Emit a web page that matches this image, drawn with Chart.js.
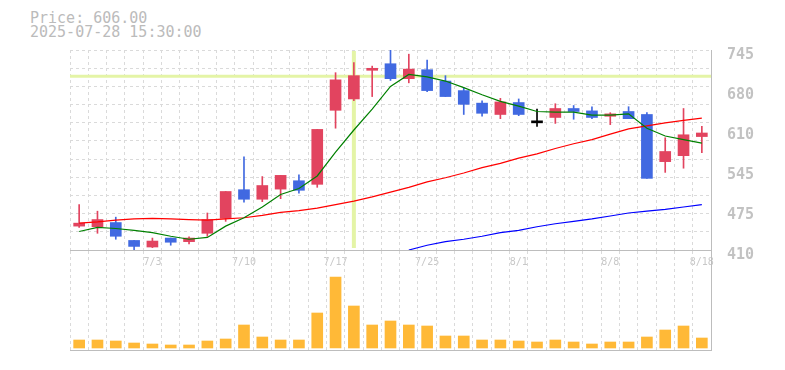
<!DOCTYPE html>
<html>
<head>
<meta charset="utf-8">
<script src="https://cdn.jsdelivr.net/npm/chart.js@4.4.1/dist/chart.umd.min.js"></script>
<style>
  body { margin: 0; background: #fff; }
  #wrap { position: relative; width: 785px; height: 370px; }
  #info { position: absolute; left: 30px; top: 11px; font: 15px/14px "DejaVu Sans Mono", monospace; color: #bbb; white-space: pre; }
  canvas { position: absolute; left: 0; }
</style>
</head>
<body>
<div id="wrap">
  <div id="info">Price: 606.00
2025-07-28 15:30:00</div>
  <canvas id="price" width="785" height="270" style="top:0"></canvas>
  <canvas id="volume" width="785" height="105" style="top:250px"></canvas>
</div>
<script>
// trading days
const dates = ['6/27','6/30','7/1','7/2','7/3','7/4','7/7','7/8','7/9','7/10','7/11','7/14','7/15','7/16','7/17','7/18',
  '7/22','7/23','7/24','7/25','7/28','7/29','7/30','7/31','8/1','8/4','8/5','8/6','8/7','8/8','8/12','8/13','8/14','8/15','8/18'];
const tickDates = ['7/3','7/10','7/17','7/25','8/1','8/8','8/18'];

const opens  = [450,449,456,426,415,430,424,438,463,511,495,512,526,520,644,663,711,722,697,712,693,677,656,637,657,623,632,647,643,634,642,637,558,568,600];
const highs  = [486,475,465,426,430,430,432,472,508,566,533,535,536,612,707,724,718,746,738,728,702,682,660,664,663,646,655,652,650,640,650,640,598,647,617];
const lows   = [448,438,428,410,414,418,420,433,458,490,491,496,505,515,614,660,667,694,690,675,667,637,634,630,635,617,622,629,630,620,630,530,540,547,573];
const closes = [455,461,433,416,425,423,430,461,508,495,518,535,510,612,695,702,713,697,713,677,667,654,639,658,637,623,647,642,632,638,630,530,575,603,606];

// moving averages
const ma5  = [441,448,446,443,439,433,428,431,450,464,482,503,513,534,574,611,646,684,704,700,693,682,670,659,651,642,641,641,636,636,638,614,601,595,589];
const ma25 = [455,457,460,462,463,462,461,460,462,464,468,473,476,480,486,492,499,507,515,524,531,539,548,555,564,571,580,588,595,604,613,618,623,627,631];
const ma75 = [null,null,null,null,null,null,null,null,null,null,null,null,null,null,null,null,null,null,
  410,418,424,428,433,439,443,449,454,458,462,467,472,475,478,482,486];

// volume (thousand shares)
const volumes = [80,80,70,50,40,30,30,70,90,230,110,80,80,350,710,420,230,270,230,220,120,120,80,80,70,60,80,60,40,60,60,110,180,220,100];

// price axis
const priceMin = 410, priceMax = 745;
const priceTicks = [410,477,544,611,678,745];
const priceTickLabels = ['410','475','545','610','680','745'];

// crosshair position
const cursorIndex = 15;
const cursorPrice = 701;

const upColor = '#e2445f';
const downColor = '#4169e1';
const gridColor = '#dadada';
const axisColor = '#bdbdbd';
const mono = '"DejaVu Sans Mono", monospace';

function candleColor(i) {
  if (closes[i] > opens[i]) return upColor;
  if (closes[i] < opens[i]) return downColor;
  return '#000';
}
const colors = dates.map((d, i) => candleColor(i));

const gridValues = [];
for (let k = 0; k <= 11; k++) gridValues.push(priceMin + (priceMax - priceMin) * k / 11);

const crosshair = {
  id: 'crosshair',
  beforeDatasetsDraw(chart) {
    const { ctx, chartArea: a, scales } = chart;
    const x = scales.x.getPixelForValue(cursorIndex);
    const y = scales.y.getPixelForValue(cursorPrice);
    ctx.save();
    ctx.strokeStyle = '#e4f4a6';
    ctx.lineWidth = 4;
    ctx.beginPath();
    ctx.moveTo(x, a.top + 1);
    ctx.lineTo(x, a.bottom - 2);
    ctx.stroke();
    ctx.lineWidth = 3;
    ctx.beginPath();
    ctx.moveTo(a.left, y);
    ctx.lineTo(a.right, y);
    ctx.stroke();
    ctx.restore();
  }
};

const maLine = (data, color) => ({
  type: 'line', data: data, borderColor: color, borderWidth: 1.2,
  pointRadius: 0, fill: false, tension: 0, order: 0
});

new Chart(document.getElementById('price'), {
  type: 'bar',
  data: {
    labels: dates,
    datasets: [
      maLine(ma5, '#008000'),
      maLine(ma25, '#ff0000'),
      maLine(ma75, '#0000ff'),
      {
        data: dates.map((d, i) => [opens[i], closes[i]]),
        backgroundColor: colors, borderWidth: 0,
        barThickness: 11, minBarLength: 2, grouped: false, order: 1
      },
      {
        data: dates.map((d, i) => [lows[i], highs[i]]),
        backgroundColor: colors, borderWidth: 0,
        barThickness: 1, grouped: false, order: 2
      }
    ]
  },
  options: {
    responsive: false,
    animation: false,
    devicePixelRatio: 1,
    layout: { padding: { left: 70, top: 50, right: 0, bottom: 0 } },
    plugins: { legend: { display: false }, tooltip: { enabled: false } },
    scales: {
      x: {
        offset: true,
        grid: { offset: true, drawTicks: false, color: gridColor },
        border: { color: axisColor, dash: [3, 3] },
        ticks: {
          autoSkip: false, maxRotation: 0, padding: 6,
          color: '#c8c8c8', font: { family: mono, size: 10 },
          callback: (v, i) => tickDates.includes(dates[i]) ? dates[i] : ''
        },
        afterFit: s => { s.height = 20; }
      },
      y: {
        position: 'right', min: priceMin, max: priceMax,
        grid: { display: false },
        border: { color: axisColor },
        afterBuildTicks: s => { s.ticks = priceTicks.map(v => ({ value: v })); },
        ticks: {
          padding: 8, labelOffset: 5, color: '#c2c2c2',
          font: { family: mono, size: 15, weight: 'bold' },
          callback: (v, i) => priceTickLabels[i]
        },
        afterFit: s => { s.width = 74; }
      },
      yGrid: {
        position: 'right', min: priceMin, max: priceMax,
        grid: { drawTicks: false, color: gridColor },
        border: { display: false, dash: [3, 3] },
        ticks: { display: false },
        afterBuildTicks: s => { s.ticks = gridValues.map(v => ({ value: v })); },
        afterFit: s => { s.width = 0; }
      }
    }
  },
  plugins: [crosshair]
});

new Chart(document.getElementById('volume'), {
  type: 'bar',
  data: {
    labels: dates,
    datasets: [{
      data: volumes, backgroundColor: '#ffb937', borderWidth: 0, barThickness: 11
    }]
  },
  options: {
    responsive: false,
    animation: false,
    devicePixelRatio: 1,
    layout: { padding: { left: 70, top: 1, right: 0, bottom: 5 } },
    plugins: { legend: { display: false }, tooltip: { enabled: false } },
    scales: {
      x: {
        offset: true,
        grid: { offset: true, drawTicks: false, color: gridColor },
        border: { color: axisColor, dash: [3, 3] },
        ticks: { display: false },
        afterFit: s => { s.height = 0; }
      },
      y: {
        position: 'right', min: -20, max: 970,
        grid: { display: false },
        border: { color: axisColor },
        ticks: { display: false },
        afterFit: s => { s.width = 74; }
      }
    }
  }
});
</script>
</body>
</html>
